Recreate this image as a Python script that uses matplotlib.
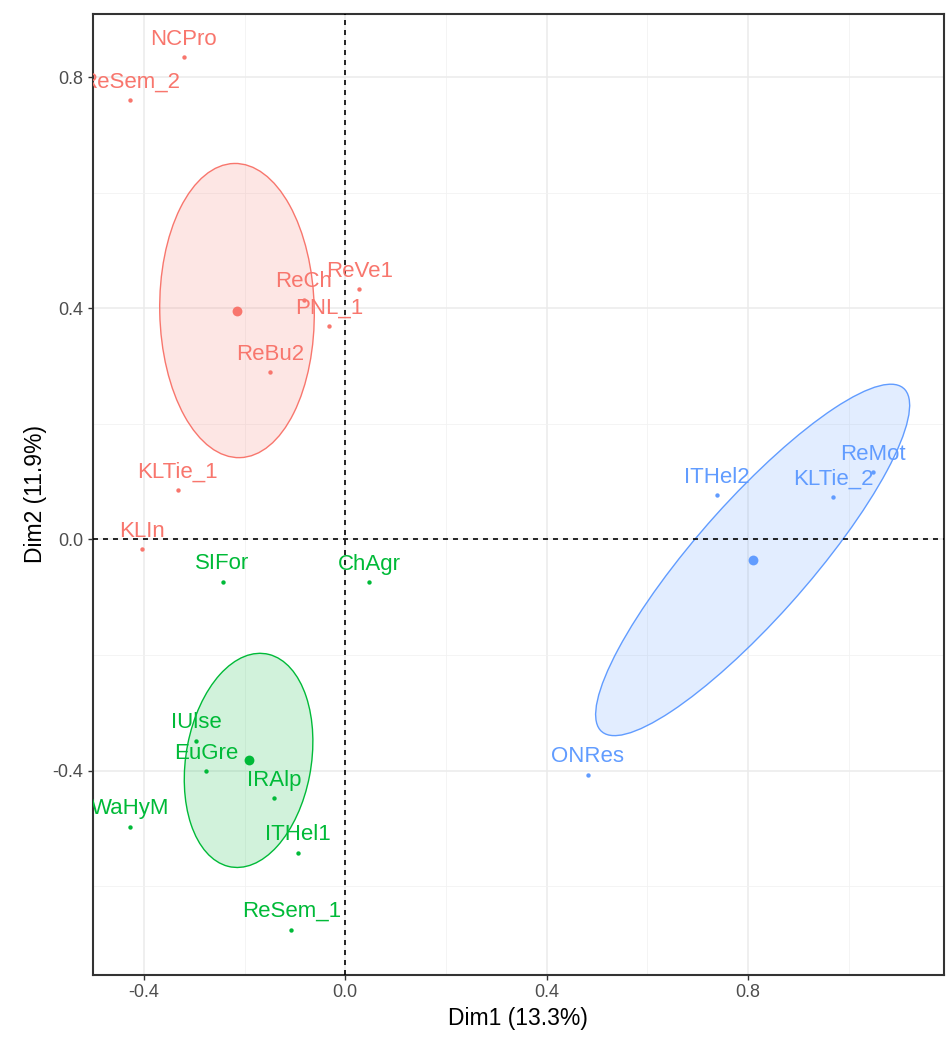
import numpy as np
import matplotlib
matplotlib.use('Agg')
import matplotlib.pyplot as plt
from matplotlib.patches import Ellipse

plt.rcParams['font.family'] = ['Liberation Sans', 'DejaVu Sans']
plt.rcParams['axes.unicode_minus'] = False

# individuos por grupo (Dim1, Dim2)
red_names = ['NCPro', 'ReSem_2', 'ReVe1', 'ReCh', 'PNL_1', 'ReBu2', 'KLTie_1', 'KLIn']
red_x = [-0.321, -0.427, 0.028, -0.083, -0.032, -0.149, -0.333, -0.405]
red_y = [0.834, 0.760, 0.433, 0.415, 0.369, 0.289, 0.085, -0.017]

green_names = ['SIFor', 'ChAgr', 'IUlse', 'EuGre', 'IRAlp', 'WaHyM', 'ITHel1', 'ReSem_1']
green_x = [-0.244, 0.048, -0.296, -0.276, -0.141, -0.427, -0.095, -0.107]
green_y = [-0.073, -0.074, -0.349, -0.401, -0.448, -0.497, -0.542, -0.675]

blue_names = ['ITHel2', 'KLTie_2', 'ReMot', 'ONRes']
blue_x = [0.738, 0.970, 1.048, 0.482]
blue_y = [0.076, 0.073, 0.116, -0.407]

groups = [
    (red_names, red_x, red_y, '#F8766D'),
    (green_names, green_x, green_y, '#00BA38'),
    (blue_names, blue_x, blue_y, '#619CFF'),
]

fig = plt.figure(figsize=(9.46, 10.39), dpi=100)
ax = fig.add_axes([0.098, 0.062, 0.900, 0.925])

for names, xs, ys, col in groups:
    xs = np.array(xs)
    ys = np.array(ys)
    n = len(xs)
    cx, cy = xs.mean(), ys.mean()
    # elipse de confianza de la media
    cov = np.cov(xs, ys)
    vals, vecs = np.linalg.eigh(cov)
    order = vals.argsort()[::-1]
    vals, vecs = vals[order], vecs[:, order]
    ang = np.degrees(np.arctan2(vecs[1, 0], vecs[0, 0]))
    k = np.sqrt(5.991 / n)
    w, h = 2 * k * np.sqrt(vals)
    ax.add_patch(Ellipse((cx, cy), w, h, angle=ang, facecolor=col, alpha=0.18,
                         edgecolor='none', zorder=2))
    ax.add_patch(Ellipse((cx, cy), w, h, angle=ang, facecolor='none',
                         edgecolor=col, lw=1.0, zorder=3))
    ax.scatter(xs, ys, s=10, color=col, zorder=4, linewidths=0)
    ax.scatter([cx], [cy], s=50, color=col, zorder=4, linewidths=0)
    for nm, x, y in zip(names, xs, ys):
        ax.annotate(nm, (x, y), xytext=(0, 5.5), textcoords='offset points',
                    ha='center', va='bottom', fontsize=16, color=col,
                    clip_on=True, zorder=5)

ax.axhline(0, color='black', lw=1.2, ls=(0, (3, 3)), zorder=3)
ax.axvline(0, color='black', lw=1.2, ls=(0, (3, 3)), zorder=3)

ax.set_xlim(-0.502, 1.19)
ax.set_ylim(-0.753, 0.910)
ax.set_xticks([-0.4, 0.0, 0.4, 0.8])
ax.set_yticks([-0.4, 0.0, 0.4, 0.8])
ax.set_xticks([-0.2, 0.2, 0.6, 1.0], minor=True)
ax.set_yticks([-0.6, -0.2, 0.2, 0.6], minor=True)
ax.grid(True, which='major', color='#EBEBEB', lw=1.1, zorder=0)
ax.grid(True, which='minor', color='#F2F2F2', lw=0.6, zorder=0)
ax.set_axisbelow(True)
ax.tick_params(which='major', length=3.5, width=1, color='#333333',
               labelsize=13, labelcolor='#4D4D4D')
ax.tick_params(which='minor', length=0)
for s in ax.spines.values():
    s.set_color('#333333')
    s.set_linewidth(1.5)

ax.set_xlabel('Dim1 (13.3%)', fontsize=16.5)
ax.set_ylabel('Dim2 (11.9%)', fontsize=16.5)

plt.savefig('out.png', dpi=100)
